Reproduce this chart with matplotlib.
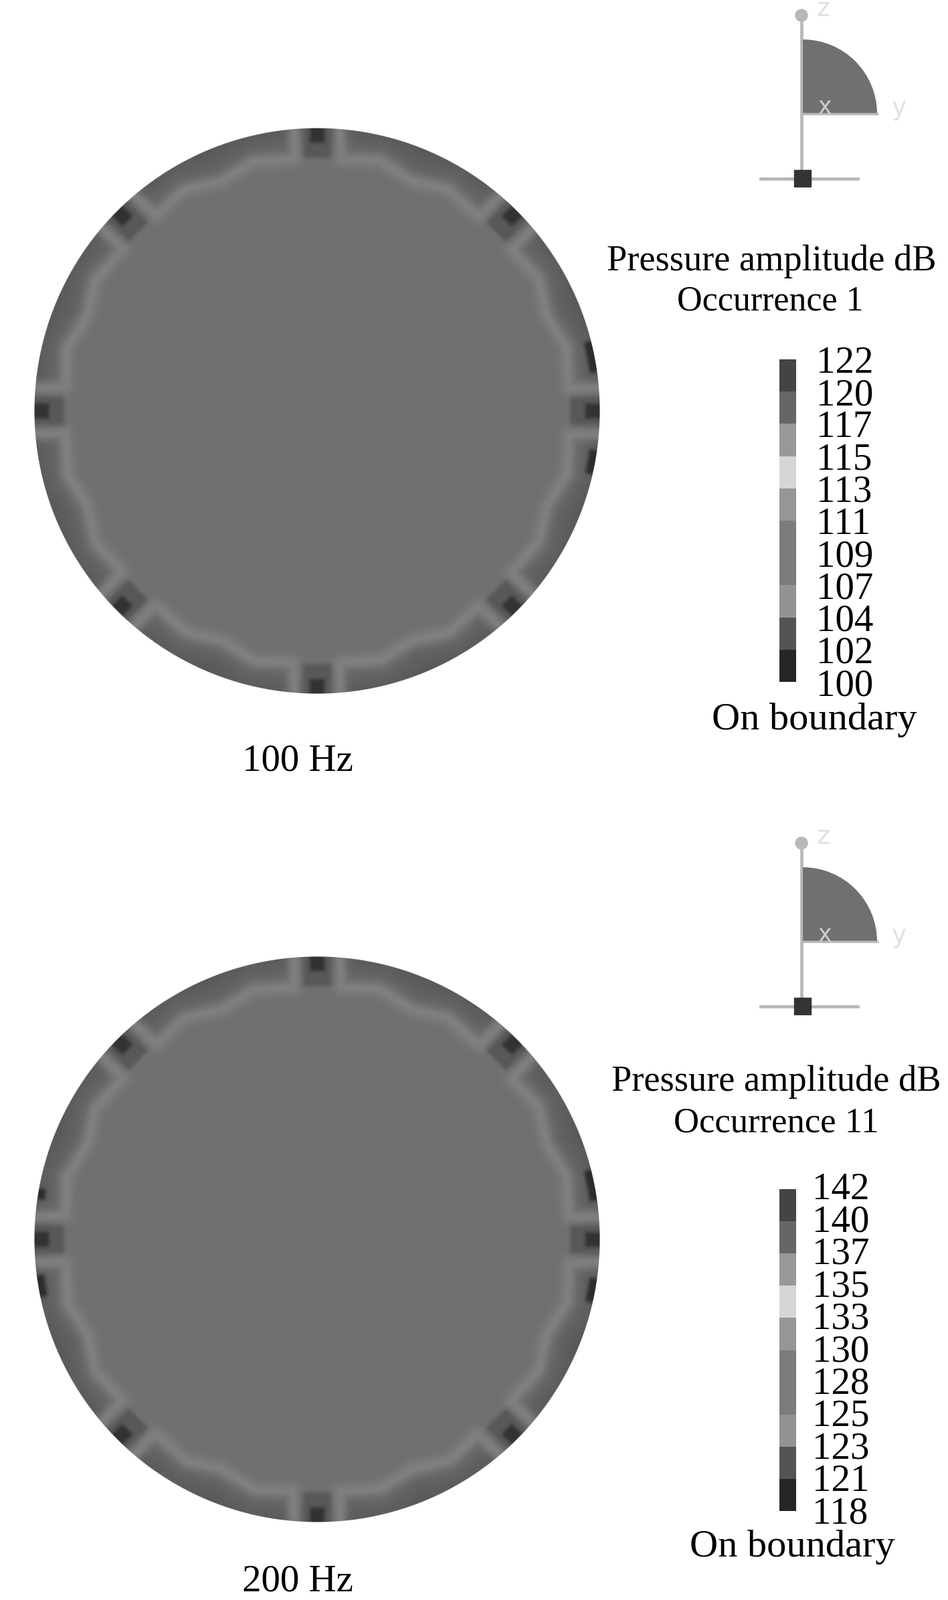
import numpy as np
import matplotlib
matplotlib.use('Agg')
import matplotlib.pyplot as plt
from matplotlib.patches import Wedge, Rectangle, Circle

plt.rcParams['font.family'] = ['Liberation Serif', 'DejaVu Serif']

W, H = 1417, 2391

# colour bars, top to bottom
levels_100 = [122, 120, 117, 115, 113, 111, 109, 107, 104, 102, 100]
levels_200 = [142, 140, 137, 135, 133, 130, 128, 125, 123, 121, 118]
bar_grays = [68, 102, 152, 214, 150, 124, 124, 146, 84, 38]

freq_labels = ['100 Hz', '200 Hz']
occurrence_labels = ['Occurrence 1', 'Occurrence 11']

# contour of one 45 deg sector: angle from the notch (deg), radius (px)
band_phi = [4.6, 5.2, 14.4, 22.5, 31.0, 39.5, 40.4]
band_r = [425, 378, 385, 372, 386, 378, 425]
notch_angles = np.arange(0, 360, 45)

# gray levels in the disc
gray_inner = 112
gray_band = 128
gray_outer = 106
gray_rim = 90
gray_notch = 88
gray_core = 50
gray_sliver = 44

# dark slivers on the rim, (from deg, to deg)
slivers_100 = [(7.9, 14.3), (-13.0, -8.0)]
slivers_200 = [(7.9, 14.3), (-13.0, -8.0), (169.6, 171.8), (187.3, 191.8)]

R = 423
NOTCH_W = 20
NOTCH_IN = 379
CORE_W = 11
CORE_IN = 401


def box_blur(a, n):
    kernel = np.ones(n) / n
    a = np.apply_along_axis(lambda v: np.convolve(v, kernel, mode='same'), 0, a)
    a = np.apply_along_axis(lambda v: np.convolve(v, kernel, mode='same'), 1, a)
    return a


def disc_field(slivers):
    pad = 12
    c = np.arange(-R - pad, R + pad + 1)
    x, y = np.meshgrid(c, -c)
    r = np.hypot(x, y)
    theta = np.degrees(np.arctan2(y, x)) % 360

    phi = theta % 45
    px = r * np.cos(np.radians(phi))
    py = r * np.sin(np.radians(phi))
    bx = np.array(band_r) * np.cos(np.radians(band_phi))
    by = np.array(band_r) * np.sin(np.radians(band_phi))
    dist = np.full(r.shape, 1e9)
    for i in range(len(bx) - 1):
        sx, sy = bx[i+1] - bx[i], by[i+1] - by[i]
        s = ((px - bx[i])*sx + (py - by[i])*sy) / (sx**2 + sy**2)
        s = np.clip(s, 0, 1)
        dist = np.minimum(dist, np.hypot(px - bx[i] - s*sx, py - by[i] - s*sy))

    r_in = np.interp(phi, band_phi[1:-1], band_r[1:-1])
    g = np.where(r < r_in, float(gray_inner), gray_outer - (gray_outer - gray_rim)*np.clip((r - r_in)/45, 0, 1))
    g = g + (gray_band - g)*np.exp(-(dist/11.0)**2)

    k = np.round(theta/45)
    dth = np.radians(theta - k*45)
    t = r*np.sin(dth)
    u = r*np.cos(dth)
    g[(np.abs(t) < NOTCH_W) & (u > NOTCH_IN)] = gray_notch
    g[(np.abs(t) < CORE_W) & (u > CORE_IN)] = gray_core

    signed = (theta + 180) % 360 - 180
    for a, b in slivers:
        g[(signed > a) & (signed < b) & (r > R - 11)] = gray_sliver
        g[(theta > a) & (theta < b) & (r > R - 11)] = gray_sliver

    g = box_blur(box_blur(g, 7), 5)
    cover = np.clip(R + 0.5 - r, 0, 1)
    g = g*cover + 255*(1 - cover)
    return g, c


def draw_triad(ax, dy):
    ax.plot([1198, 1198], [23 + dy, 267 + dy], color='0.72', lw=3.4, zorder=1)
    ax.plot([1137, 1282], [267 + dy, 267 + dy], color='0.72', lw=3.4, zorder=1)
    ax.add_patch(Circle((1198, 23 + dy), 9, color='0.72', zorder=1))
    ax.add_patch(Wedge((1200, 170 + dy), 111, -90, 0, color='#707070', lw=0, zorder=2))
    ax.plot([1200, 1311], [170 + dy, 170 + dy], color='0.72', lw=2.5, zorder=3)
    ax.add_patch(Rectangle((1187, 254 + dy), 25, 25, color='#333333', zorder=4))
    ax.text(1233, 160 + dy, 'x', color='0.8', fontsize=25, family='DejaVu Sans', ha='center', va='center', zorder=5)
    ax.text(1230, 14 + dy, 'z', color='0.88', fontsize=27, family='DejaVu Sans', ha='center', va='center')
    ax.text(1344, 162 + dy, 'y', color='0.88', fontsize=27, family='DejaVu Sans', ha='center', va='center')


def draw_bar(levels, left, top, bottom, pad, lift_top, lift_bottom):
    bar = fig.add_axes([left/W, 1 - bottom/H, 25/W, (bottom - top)/H])
    bar.pcolormesh([0, 1], np.arange(len(levels)), np.array(bar_grays)[:, None],
                   cmap='gray', vmin=0, vmax=255)
    bar.set_ylim(len(levels) - 1, 0)
    bar.set_xticks([])
    bar.set_yticks([])
    pos = np.arange(len(levels))
    lift = lift_top + (lift_bottom - lift_top)*pos/pos[-1]
    for p, l, lv in zip(pos, lift, levels):
        bar.annotate(str(lv), (1, p - l), xycoords=bar.get_yaxis_transform(), xytext=(pad, 0),
                     textcoords='offset points', fontsize=41, va='center_baseline', annotation_clip=False)
    for s in bar.spines.values():
        s.set_visible(False)


fig = plt.figure(figsize=(W/100, H/100), dpi=100)
ax = fig.add_axes([0, 0, 1, 1])

g1, c = disc_field(slivers_100)
g2, c = disc_field(slivers_200)
cx = 474
for g, cy in [(g1, 614), (g2, 1852)]:
    ax.imshow(g, cmap='gray', vmin=0, vmax=255, aspect='auto', interpolation='bilinear',
              extent=[cx + c[0], cx + c[-1], cy + c[-1], cy + c[0]])

draw_triad(ax, 0)
draw_triad(ax, 1237)

ax.text(1153, 404, 'Pressure amplitude dB', fontsize=39.2, ha='center', va='baseline')
ax.text(1151, 463, occurrence_labels[0], fontsize=37.5, ha='center', va='baseline')
ax.text(1160, 1630, 'Pressure amplitude dB', fontsize=39.2, ha='center', va='baseline')
ax.text(1160, 1691, occurrence_labels[1], fontsize=38, ha='center', va='baseline')
ax.text(1217, 1090, 'On boundary', fontsize=42, ha='center', va='baseline')
ax.text(1184, 2326, 'On boundary', fontsize=42, ha='center', va='baseline')
ax.text(445, 1152, freq_labels[0], fontsize=41, ha='center', va='baseline')
ax.text(445, 2378, freq_labels[1], fontsize=41, ha='center', va='baseline')

ax.set_xlim(0, W)
ax.set_ylim(H, 0)
ax.axis('off')

draw_bar(levels_100, 1165, 537, 1019, 21.5, 0, 0)
draw_bar(levels_200, 1165, 1777, 2258, 17.1, 0.1, 0.04)

fig.savefig('out.png', dpi=100)
